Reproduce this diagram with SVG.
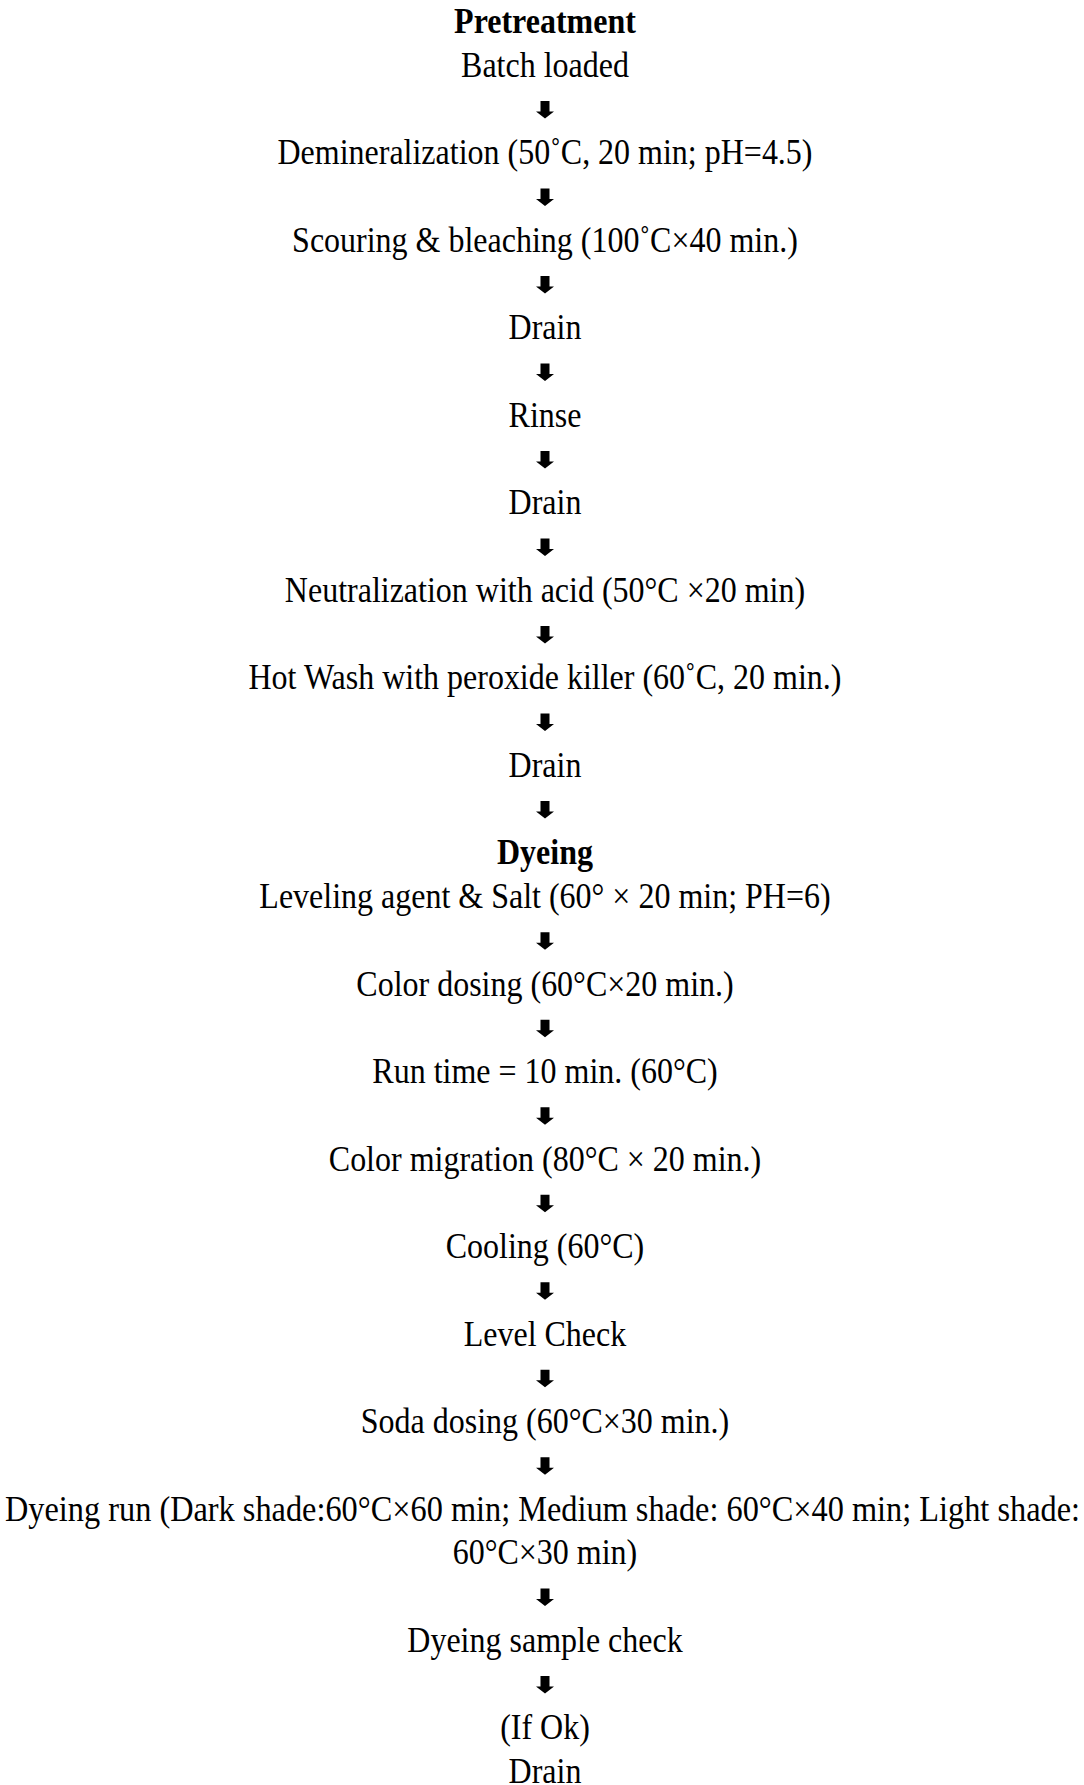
<svg xmlns="http://www.w3.org/2000/svg" xmlns:xlink="http://www.w3.org/1999/xlink" width="1084" height="1785" viewBox="0 0 1084 1785">
<style>
text{font-family:"Liberation Serif","Times New Roman",serif;font-size:32px;fill:#000;text-anchor:middle}
.b{font-weight:bold}
</style>
<defs>
<path id="arr" d="M-4.5,-19.5 H4.5 V-9 H9 L0,-2 L-9,-9 H-4.5 Z" fill="#000"/>
</defs>
<rect width="1084" height="1785" fill="#fff"/>
<g id="n-pretreatment" transform="translate(0,33) scale(1,1.15)"><text class="b" x="545" y="0">Pretreatment</text></g>
<g id="n-batch" transform="translate(0,76.75) scale(1,1.15)"><text x="545" y="0">Batch loaded</text></g>
<g id="n-demin" transform="translate(0,164.25) scale(1,1.15)"><text x="545" y="0">Demineralization (50˚C, 20 min; pH=4.5)</text></g>
<g id="n-scouring" transform="translate(0,251.75) scale(1,1.15)"><text x="545" y="0">Scouring &amp; bleaching (100˚C×40 min.)</text></g>
<g id="n-drain1" transform="translate(0,339.25) scale(1,1.15)"><text x="545" y="0">Drain</text></g>
<g id="n-rinse" transform="translate(0,426.75) scale(1,1.15)"><text x="545" y="0">Rinse</text></g>
<g id="n-drain2" transform="translate(0,514.25) scale(1,1.15)"><text x="545" y="0">Drain</text></g>
<g id="n-neutral" transform="translate(0,601.75) scale(1,1.15)"><text x="545" y="0">Neutralization with acid (50°C ×20 min)</text></g>
<g id="n-hotwash" transform="translate(0,689.25) scale(1,1.15)"><text x="545" y="0">Hot Wash with peroxide killer (60˚C, 20 min.)</text></g>
<g id="n-drain3" transform="translate(0,776.75) scale(1,1.15)"><text x="545" y="0">Drain</text></g>
<g id="n-dyeing" transform="translate(0,864.25) scale(1,1.15)"><text class="b" x="545" y="0">Dyeing</text></g>
<g id="n-leveling" transform="translate(0,908) scale(1,1.15)"><text x="545" y="0">Leveling agent &amp; Salt (60° × 20 min; PH=6)</text></g>
<g id="n-colordosing" transform="translate(0,995.5) scale(1,1.15)"><text x="545" y="0">Color dosing (60°C×20 min.)</text></g>
<g id="n-runtime" transform="translate(0,1083) scale(1,1.15)"><text x="545" y="0">Run time = 10 min. (60°C)</text></g>
<g id="n-migration" transform="translate(0,1170.5) scale(1,1.15)"><text x="545" y="0">Color migration (80°C × 20 min.)</text></g>
<g id="n-cooling" transform="translate(0,1258) scale(1,1.15)"><text x="545" y="0">Cooling (60°C)</text></g>
<g id="n-levelcheck" transform="translate(0,1345.5) scale(1,1.15)"><text x="545" y="0">Level Check</text></g>
<g id="n-soda" transform="translate(0,1433) scale(1,1.15)"><text x="545" y="0">Soda dosing (60°C×30 min.)</text></g>
<g id="n-dyeingrun" transform="translate(0,1520.5) scale(1,1.15)"><text x="542.5" y="0" textLength="1075" lengthAdjust="spacingAndGlyphs">Dyeing run (Dark shade:60°C×60 min; Medium shade: 60°C×40 min; Light shade:</text><text x="545" y="38.04">60°C×30 min)</text></g>
<g id="n-sample" transform="translate(0,1651.75) scale(1,1.15)"><text x="545" y="0">Dyeing sample check</text></g>
<g id="n-drain4" transform="translate(0,1739.25) scale(1,1.15)"><text x="545" y="0">(If Ok)</text><text x="545" y="38.04">Drain</text></g>
<g id="connectors">
<use xlink:href="#arr" x="545" y="120.5"/>
<use xlink:href="#arr" x="545" y="208"/>
<use xlink:href="#arr" x="545" y="295.5"/>
<use xlink:href="#arr" x="545" y="383"/>
<use xlink:href="#arr" x="545" y="470.5"/>
<use xlink:href="#arr" x="545" y="558"/>
<use xlink:href="#arr" x="545" y="645.5"/>
<use xlink:href="#arr" x="545" y="733"/>
<use xlink:href="#arr" x="545" y="820.5"/>
<use xlink:href="#arr" x="545" y="951.75"/>
<use xlink:href="#arr" x="545" y="1039.25"/>
<use xlink:href="#arr" x="545" y="1126.75"/>
<use xlink:href="#arr" x="545" y="1214.25"/>
<use xlink:href="#arr" x="545" y="1301.75"/>
<use xlink:href="#arr" x="545" y="1389.25"/>
<use xlink:href="#arr" x="545" y="1476.75"/>
<use xlink:href="#arr" x="545" y="1608"/>
<use xlink:href="#arr" x="545" y="1695.5"/>
</g>
</svg>
